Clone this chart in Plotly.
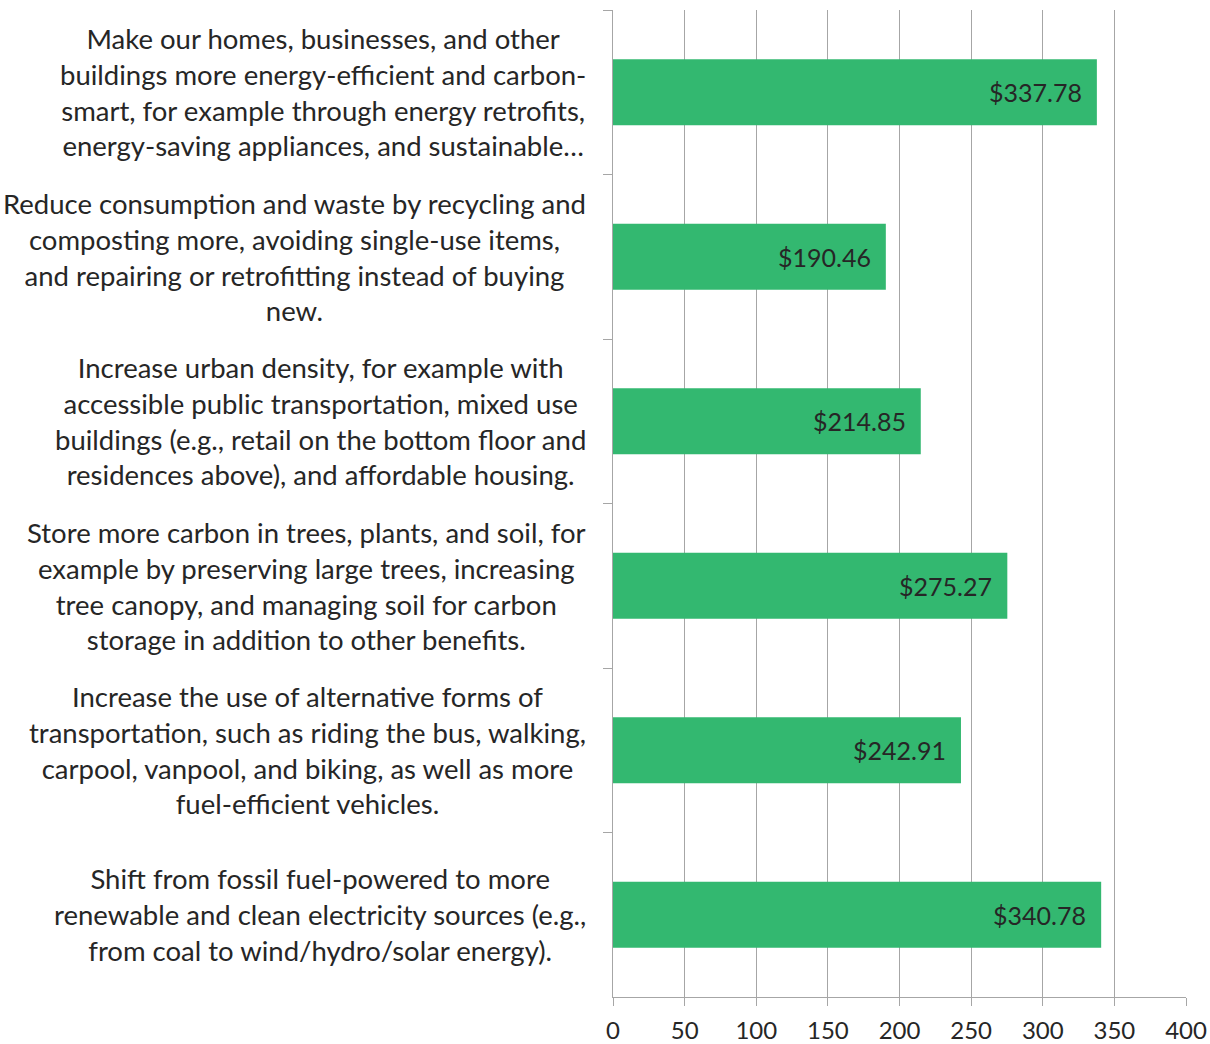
import plotly.graph_objects as go

categories = [
    "Make our homes, businesses, and other<br>buildings more energy-efficient and carbon-<br>smart, for example through energy retrofits,<br>energy-saving appliances, and sustainable…",
    "Reduce consumption and waste by recycling and<br>composting more, avoiding single-use items,<br>and repairing or retrofitting instead of buying<br>new.",
    "Increase urban density, for example with<br>accessible public transportation, mixed use<br>buildings (e.g., retail on the bottom floor and<br>residences above), and affordable housing.",
    "Store more carbon in trees, plants, and soil, for<br>example by preserving large trees, increasing<br>tree canopy, and managing soil for carbon<br>storage in addition to other benefits.",
    "Increase the use of alternative forms of<br>transportation, such as riding the bus, walking,<br>carpool, vanpool, and biking, as well as more<br>fuel-efficient vehicles.",
    "Shift from fossil fuel-powered to more<br>renewable and clean electricity sources (e.g.,<br>from coal to wind/hydro/solar energy).",
]
values = [337.78, 190.46, 214.85, 275.27, 242.91, 340.78]
x_ticks = [0, 50, 100, 150, 200, 250, 300, 350, 400]

FONT = "Lato"
TXT = "#262626"
GRID = "#A6A6A6"
BAR = "#33B870"

fig = go.Figure(go.Bar(
    x=values, y=categories, orientation="h",
    marker=dict(color=BAR, line=dict(width=0)),
    hoverinfo="skip",
))

annotations = []
for c, v in zip(categories, values):
    annotations.append(dict(
        x=v, y=c, xref="x", yref="y", text=f"${v:.2f}", showarrow=False,
        xanchor="right", yanchor="middle", xshift=-13,
        font=dict(family=FONT, size=25, color=TXT),
    ))
    annotations.append(dict(
        x=-0.043, y=c, xref="paper", yref="y", text=c, showarrow=False,
        xanchor="right", yanchor="middle", align="center",
        font=dict(family=FONT, size=27.5, color=TXT),
    ))

fig.update_layout(
    width=1210, height=1044,
    margin=dict(l=613, r=24, t=10, b=47, autoexpand=False),
    paper_bgcolor="white", plot_bgcolor="white",
    bargap=0.6, showlegend=False,
    font=dict(family=FONT, color=TXT),
    annotations=annotations,
    xaxis=dict(
        range=[0, 400], tickvals=x_ticks, ticktext=[str(t) for t in x_ticks],
        showgrid=True, gridcolor=GRID, gridwidth=1.3,
        showline=True, linecolor=GRID, linewidth=1.3,
        ticks="outside", ticklen=8, tickcolor=GRID, tickwidth=1.3,
        zeroline=False, tickfont=dict(family=FONT, size=24, color=TXT),
        ticklabelstandoff=4, automargin=False,
    ),
    yaxis=dict(
        autorange="reversed", showticklabels=False,
        showline=True, linecolor=GRID, linewidth=1.3,
        ticks="outside", ticklen=9, tickcolor=GRID, tickwidth=1.3,
        tickson="boundaries", showgrid=False, zeroline=False, automargin=False,
    ),
)

# remove the default 8px page margin so the 1210x1044 figure fills the window
fig.write_html(
    "out.html",
    config={"displayModeBar": False},
    post_script="document.body.style.margin='0';document.body.style.overflow='hidden';",
)
